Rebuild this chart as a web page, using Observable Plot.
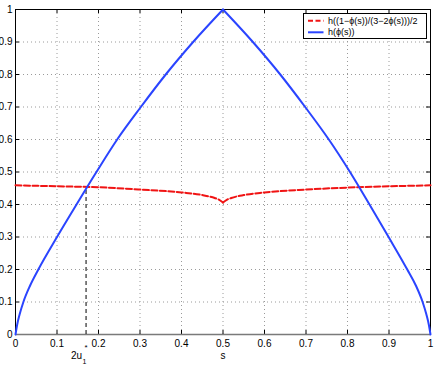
<!DOCTYPE html>
<html>
<head>
<meta charset="utf-8">
<script src="https://cdn.jsdelivr.net/npm/d3@7"></script>
<script src="https://cdn.jsdelivr.net/npm/@observablehq/plot@0.6"></script>
<style>
  html, body { margin: 0; padding: 0; background: #fff; }
</style>
</head>
<body>
<div id="chart"></div>
<script>
// ---- data ----
const xTicks = [0, 0.1, 0.2, 0.3, 0.4, 0.5, 0.6, 0.7, 0.8, 0.9, 1];
const yTicks = [0, 0.1, 0.2, 0.3, 0.4, 0.5, 0.6, 0.7, 0.8, 0.9, 1];

// blue: h(phi(s)) — left branch and right branch (sharp peak at s = 0.5)
const sBlueLeft  = [0, 0.004, 0.01, 0.019, 0.035, 0.055, 0.1, 0.147, 0.195, 0.245, 0.302, 0.362, 0.428, 0.5];
const hBlueLeft  = [0, 0.03, 0.062, 0.1, 0.15, 0.2, 0.3, 0.4, 0.5, 0.6, 0.7, 0.8, 0.9, 1];
const sBlueRight = [0.5, 0.572, 0.638, 0.698, 0.755, 0.806, 0.853, 0.899, 0.944, 0.965, 0.981, 0.99, 0.996, 1];
const hBlueRight = [1, 0.9, 0.8, 0.7, 0.6, 0.5, 0.4, 0.3, 0.2, 0.15, 0.1, 0.062, 0.03, 0];

// red: h((1-phi(s))/(3-2phi(s)))/2 — left and right branch (cusp at s = 0.5)
const sRedLeft  = [0, 0.1, 0.2, 0.3, 0.4, 0.45, 0.48, 0.49, 0.5];
const hRedLeft  = [0.459, 0.456, 0.453, 0.446, 0.437, 0.429, 0.420, 0.415, 0.406];
const sRedRight = [0.5, 0.51, 0.52, 0.55, 0.6, 0.7, 0.8, 0.9, 1];
const hRedRight = [0.406, 0.415, 0.420, 0.429, 0.437, 0.446, 0.452, 0.456, 0.459];

// crossing point 2u1*
const uCross = [0.17];
const uCrossH = [0.454];

const seriesNames = ["h((1\u2212\u03d5(s))/(3\u22122\u03d5(s)))/2", "h(\u03d5(s))"];
const seriesColors = ["#f01414", "#2a44ff"];
const xLabel = ["s"];
const uLabel = ["2u", "1", "*"];

// ---- build ----
const toRows = (xs, ys, branch) => xs.map((s, i) => ({s, h: ys[i], branch}));
const blue = [...toRows(sBlueLeft, hBlueLeft, "L"), ...toRows(sBlueRight, hBlueRight, "R")];
const red = [...toRows(sRedLeft, hRedLeft, "L"), ...toRows(sRedRight, hRedRight, "R")];
const cross = uCross.map((s, i) => ({s, h: uCrossH[i]}));
const fmt = d => (d === 0 ? "0" : d === 1 ? "1" : d.toFixed(1));

const W = 436, H = 369, mL = 15, mR = 6, mT = 9, mB = 35;
const innerW = W - mL - mR, innerH = H - mT - mB;
const tick = 4;
const font = "'Liberation Sans', Arial, Helvetica, sans-serif";

const svg = Plot.plot({
  width: W, height: H,
  marginLeft: mL, marginRight: mR, marginTop: mT, marginBottom: mB,
  x: {domain: [0, 1]},
  y: {domain: [0, 1]},
  style: {fontFamily: font, fontSize: "10px", color: "#000", background: "#fff", overflow: "visible"},
  marks: [
    Plot.gridX({ticks: xTicks, stroke: "#9a9a9a", strokeOpacity: 1, strokeDasharray: "1,3"}),
    Plot.gridY({ticks: yTicks, stroke: "#9a9a9a", strokeOpacity: 1, strokeDasharray: "1,3"}),
    Plot.axisX({ticks: xTicks, tickSize: 0, tickPadding: 5, tickFormat: fmt, label: null}),
    Plot.axisY({ticks: yTicks, tickSize: 0, tickPadding: 3, tickFormat: fmt, label: null}),
    // inward MATLAB-style ticks
    Plot.ruleX(xTicks, {x: d => d, insetTop: innerH - tick, stroke: "#000"}),
    Plot.ruleX(xTicks, {x: d => d, insetBottom: innerH - tick, stroke: "#000"}),
    Plot.ruleY(yTicks, {y: d => d, insetRight: innerW - tick, stroke: "#000"}),
    Plot.ruleY(yTicks, {y: d => d, insetLeft: innerW - tick, stroke: "#000"}),
    Plot.frame({stroke: "#000"}),
    Plot.ruleY([0], {stroke: "#7a7a7a", strokeWidth: 1.5}),
    // vertical dashed marker
    Plot.ruleX(cross, {x: "s", y1: 0, y2: "h", stroke: "#000", strokeDasharray: "4,3", strokeWidth: 1}),
    // curves
    Plot.line(red, {x: "s", y: "h", z: "branch", stroke: seriesColors[0], strokeWidth: 2, strokeDasharray: "6,2.5", curve: "monotone-x"}),
    Plot.line(blue, {x: "s", y: "h", z: "branch", stroke: seriesColors[1], strokeWidth: 2, curve: "monotone-x"}),
    // axis label s
    Plot.text(xLabel, {x: () => 0.5, text: d => d, frameAnchor: "bottom", lineAnchor: "middle", dy: 21, fontSize: 10}),
    // 2u1* label
    Plot.text([uLabel[0]], {x: () => uCross[0], text: d => d, frameAnchor: "bottom", lineAnchor: "middle", dy: 21, dx: -4, textAnchor: "end", fontSize: 10}),
    Plot.text([uLabel[1]], {x: () => uCross[0], text: d => d, frameAnchor: "bottom", lineAnchor: "middle", dy: 27, dx: -3.5, textAnchor: "start", fontSize: 7}),
    Plot.text([uLabel[2]], {x: () => uCross[0], text: d => d, frameAnchor: "bottom", lineAnchor: "middle", dy: 13, dx: -1.5, textAnchor: "start", fontSize: 8})
  ]
});

// legend box inside the plot (top-right)
const g = d3.select(svg).append("g")
  .attr("font-family", font).attr("font-size", 9).attr("text-anchor", "start");
const lx = 303.5, ly = 13.5, lw = 123, lh = 25;
g.append("rect").attr("x", lx).attr("y", ly).attr("width", lw).attr("height", lh)
  .attr("fill", "#fff").attr("stroke", "#000").attr("stroke-width", 1);
seriesNames.forEach((name, i) => {
  const yy = ly + 7.2 + i * 11.6;
  g.append("line").attr("x1", lx + 4.5).attr("x2", lx + 20).attr("y1", yy).attr("y2", yy)
    .attr("stroke", seriesColors[i]).attr("stroke-width", 2)
    .attr("stroke-dasharray", i === 0 ? "5,2.5" : null);
  g.append("text").attr("x", lx + 24.5).attr("y", yy).attr("dy", "0.35em")
    .attr("text-anchor", "start").attr("fill", "#000").text(name);
});

document.getElementById("chart").appendChild(svg);
</script>
</body>
</html>
